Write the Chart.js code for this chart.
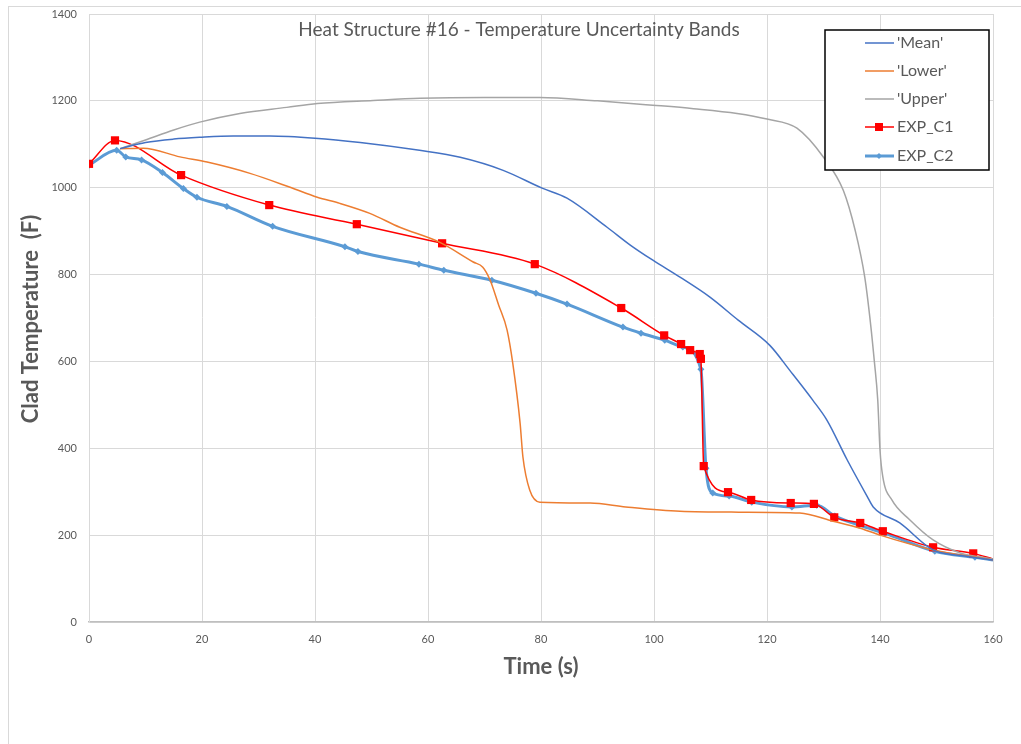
<!DOCTYPE html>
<html>
<head>
<meta charset="utf-8">
<script src="https://cdn.jsdelivr.net/npm/chart.js@4.4.1/dist/chart.umd.min.js"></script>
<style>
  html, body { margin: 0; padding: 0; background: #fff; }
  #wrap { width: 1021px; height: 744px; position: relative; }
</style>
</head>
<body>
<div id="wrap"><canvas id="chart" width="1021" height="744"></canvas></div>
<script>
// ===========================
// Heat Structure #16
// ===========================

const xTicks = [0, 20, 40, 60, 80, 100, 120, 140, 160];
const yTicks = [0, 200, 400, 600, 800, 1000, 1200, 1400];

const meanTime = [5.5, 10, 15, 19.6, 25.5, 32, 40, 48, 58.5, 65.7, 73.3, 80.2, 84.6, 91.7, 95.8, 99.8, 104.6, 109.9, 114.9, 120.5, 124, 128.1, 130.6, 134.2, 137.7, 138.8, 143.5, 149.4, 155, 160];
const meanTemp = [1090, 1104, 1112, 1116, 1119, 1119, 1114, 1104, 1086, 1070, 1040, 999, 976, 909, 868, 833, 794, 748, 695, 637, 580, 511, 465, 373, 290, 265, 228, 166, 152, 143];

const lowerTime = [5.5, 9.6, 16.1, 20.9, 28.5, 35.6, 40.4, 44.4, 49.7, 55, 62.1, 68, 69.7, 71, 72.5, 74, 75, 76.3, 76.8, 78, 79.8, 88.7, 95, 104.6, 115, 125.8, 131.7, 136.5, 140, 149.4, 160];
const lowerTemp = [1090, 1091, 1071, 1059, 1033, 1001, 978, 964, 941, 909, 874, 829, 817, 787, 730, 672, 596, 458, 380, 304, 276, 274, 265, 255, 253, 251, 232, 216, 200, 166, 143];

const upperTime = [5.5, 10, 15, 19.6, 26.7, 35, 40.4, 50.3, 58.6, 70, 79.8, 90, 99.8, 107, 114.7, 120, 125.3, 130, 133.5, 135.6, 137.3, 138.3, 139, 139.6, 140, 140.5, 142.1, 145.3, 149.4, 154.2, 160];
const upperTemp = [1090, 1110, 1133, 1151, 1171, 1185, 1194, 1201, 1206, 1208, 1208, 1200, 1190, 1182, 1171, 1158, 1137, 1070, 994, 902, 794, 690, 600, 511, 396, 334, 281, 235, 189, 159, 145];

const exp1Time = [0, 4.6, 16.3, 31.9, 47.4, 62.5, 78.9, 94.2, 101.8, 104.8, 106.4, 108.1, 108.3, 108.8, 113.1, 117.2, 124.2, 128.3, 131.9, 136.5, 140.5, 149.4, 156.5, 160];
const exp1Temp = [1055, 1109, 1029, 960, 916, 872, 824, 723, 660, 640, 626, 617, 606, 359, 299, 281, 274, 272, 241, 228, 209, 172, 158, 145];

const exp2Time = [0, 4.9, 6.5, 9.3, 13, 16.7, 19.1, 24.4, 32.5, 45.3, 47.6, 58.4, 62.8, 71.3, 79.1, 84.6, 94.5, 97.7, 101.9, 105.1, 108.3, 109.2, 110.4, 113.3, 117.3, 124.4, 128.8, 132, 136.3, 140.9, 149.7, 156.8, 160];
const exp2Temp = [1052, 1086, 1071, 1064, 1035, 998, 978, 957, 911, 864, 853, 824, 810, 787, 757, 732, 679, 665, 649, 633, 582, 354, 297, 290, 276, 265, 269, 244, 223, 204, 163, 149, 143];

const TEXT = '#595959';
const FONT = 'Lato, "Open Sans", sans-serif';

function pairs(xs, ys) {
    return xs.map((x, i) => ({ x: x, y: ys[i] }));
}

// marker on every point but the last one (line end has no marker)
function markers(xs, r) {
    return xs.map((x, i) => (i === xs.length - 1 ? 0 : r));
}

const legendItems = [
    { label: "'Mean'", color: '#4472C4', width: 1.5 },
    { label: "'Lower'", color: '#ED7D31', width: 1.5 },
    { label: "'Upper'", color: '#A5A5A5', width: 1.5 },
    { label: 'EXP_C1', color: '#FF0000', width: 1.5, marker: 'rect' },
    { label: 'EXP_C2', color: '#5B9BD5', width: 3, marker: 'diamond' }
];

/**
 * Título, ejes, leyenda y marco dibujados a mano
 */
const decorPlugin = {
    id: 'decor',
    beforeDraw(chart) {
        const ctx = chart.ctx;
        ctx.save();
        ctx.fillStyle = '#fff';
        ctx.fillRect(0, 0, chart.width, chart.height);
        ctx.strokeStyle = '#D9D9D9';
        ctx.lineWidth = 1;
        ctx.strokeRect(8.5, 6.5, 1200, 1000);
        ctx.restore();
    },
    afterDraw(chart) {
        const ctx = chart.ctx;
        ctx.save();

        // title
        ctx.fillStyle = TEXT;
        ctx.font = '19px ' + FONT;
        ctx.textAlign = 'center';
        ctx.textBaseline = 'middle';
        ctx.fillText('Heat Structure #16 - Temperature Uncertainty Bands', 519, 30);

        // axis titles
        ctx.font = 'bold 22px ' + FONT;
        ctx.fillText('Time (s)', 541, 667);
        ctx.save();
        ctx.translate(31, 319);
        ctx.rotate(-Math.PI / 2);
        ctx.fillText('Clad Temperature  (F)', 0, 0);
        ctx.restore();

        // legend box
        ctx.fillStyle = '#fff';
        ctx.fillRect(825, 30, 164, 140);
        ctx.strokeStyle = '#000';
        ctx.lineWidth = 1.5;
        ctx.strokeRect(825, 30, 164, 140);

        const rowY = [43, 71, 99, 127, 156];
        legendItems.forEach((item, i) => {
            const y = rowY[i];
            ctx.strokeStyle = item.color;
            ctx.lineWidth = item.width;
            ctx.beginPath();
            ctx.moveTo(865, y);
            ctx.lineTo(894, y);
            ctx.stroke();
            ctx.fillStyle = item.color;
            if (item.marker === 'rect') {
                ctx.fillRect(875, y - 4, 8, 8);
            } else if (item.marker === 'diamond') {
                ctx.beginPath();
                ctx.moveTo(879, y - 3);
                ctx.lineTo(882, y);
                ctx.lineTo(879, y + 3);
                ctx.lineTo(876, y);
                ctx.closePath();
                ctx.fill();
            }
            ctx.fillStyle = TEXT;
            ctx.font = '16px ' + FONT;
            ctx.textAlign = 'left';
            ctx.fillText(item.label, 897, y);
        });

        ctx.restore();
    }
};

const ctx = document.getElementById('chart');

new Chart(ctx, {
    type: 'line',
    data: {
        datasets: [
            {
                label: "'Mean'",
                data: pairs(meanTime, meanTemp),
                borderColor: '#4472C4',
                borderWidth: 1.5,
                pointRadius: 0
            },
            {
                label: "'Lower'",
                data: pairs(lowerTime, lowerTemp),
                borderColor: '#ED7D31',
                borderWidth: 1.5,
                pointRadius: 0
            },
            {
                label: "'Upper'",
                data: pairs(upperTime, upperTemp),
                borderColor: '#A5A5A5',
                borderWidth: 1.5,
                pointRadius: 0
            },
            {
                label: 'EXP_C1',
                data: pairs(exp1Time, exp1Temp),
                borderColor: '#FF0000',
                backgroundColor: '#FF0000',
                borderWidth: 1.5,
                pointStyle: 'rect',
                pointRadius: markers(exp1Time, 5.8),
                pointBorderWidth: 0
            },
            {
                label: 'EXP_C2',
                data: pairs(exp2Time, exp2Temp),
                borderColor: '#5B9BD5',
                backgroundColor: '#5B9BD5',
                borderWidth: 3,
                pointStyle: 'rectRot',
                pointRadius: markers(exp2Time, 3.5),
                pointBorderWidth: 0
            }
        ]
    },
    options: {
        responsive: false,
        animation: false,
        cubicInterpolationMode: 'monotone',
        layout: { padding: { left: 0, top: 14, right: 28, bottom: 0 } },
        plugins: {
            legend: { display: false },
            title: { display: false },
            tooltip: { enabled: false }
        },
        scales: {
            x: {
                type: 'linear',
                min: 0,
                max: 160,
                afterFit: (scale) => {
                    scale.height = 122;
                    scale.paddingLeft = 0;
                    scale.paddingRight = 0;
                },
                afterBuildTicks: (scale) => { scale.ticks = xTicks.map(v => ({ value: v })); },
                grid: { color: '#D9D9D9', drawTicks: false },
                border: { color: '#BFBFBF', width: 1.5 },
                ticks: { color: TEXT, font: { family: FONT, size: 11 }, padding: 11, callback: (v) => String(v) }
            },
            y: {
                min: 0,
                max: 1400,
                afterFit: (scale) => {
                    scale.width = 89;
                    scale.paddingTop = 0;
                    scale.paddingBottom = 0;
                },
                afterBuildTicks: (scale) => { scale.ticks = yTicks.map(v => ({ value: v })); },
                grid: { color: '#D9D9D9', drawTicks: false },
                border: { color: '#D9D9D9' },
                ticks: { color: TEXT, font: { family: FONT, size: 11 }, padding: 12, callback: (v) => String(v) }
            }
        }
    },
    plugins: [decorPlugin]
});
</script>
</body>
</html>
